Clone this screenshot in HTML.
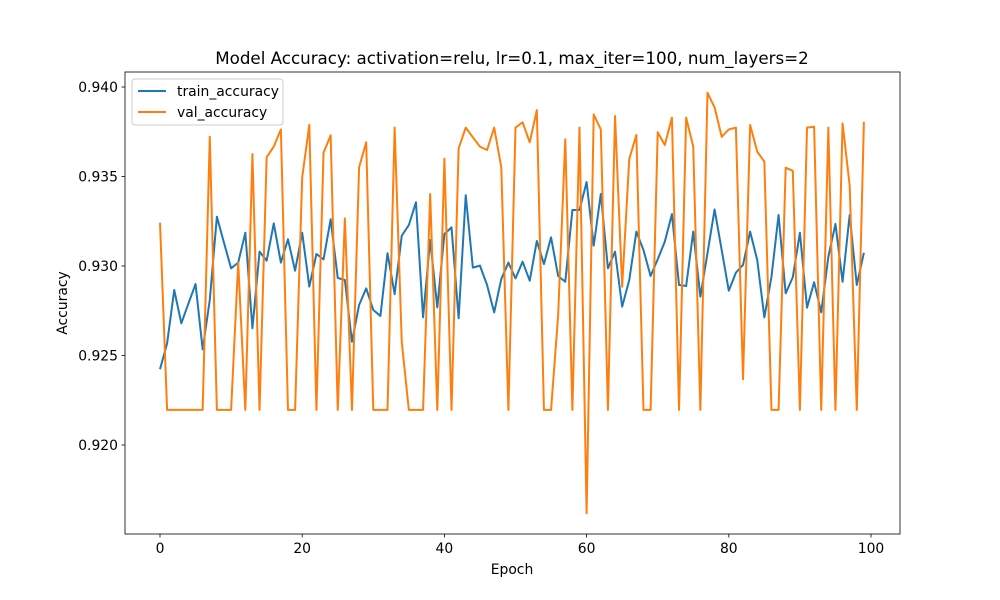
<!DOCTYPE html>
<html><head><meta charset="utf-8"><style>
body{margin:0;background:#fff;}
svg{display:block;font-family:"DejaVu Sans","Liberation Sans",sans-serif;}
</style></head><body>
<svg id="chart" width="1000" height="600">
<rect width="1000" height="600" fill="#fff"/>
<text x="512" y="64" font-size="16.7" text-anchor="middle">Model Accuracy: activation=relu, lr=0.1, max_iter=100, num_layers=2</text>
<text x="512" y="574" font-size="13.9" text-anchor="middle">Epoch</text>
<text x="67" y="303" font-size="13.9" text-anchor="middle" transform="rotate(-90 67 303)">Accuracy</text>
<g id="ticks"></g>
<g id="series"></g>
<rect x="125" y="72" width="775" height="462" fill="none" stroke="#000" stroke-width="0.8"/>
<g>
<rect x="132" y="79" width="151" height="46" rx="3" fill="#fff" fill-opacity="0.8" stroke="#ccc"/>
<line x1="138" y1="91" x2="166" y2="91" stroke="#1f77b4" stroke-width="2"/>
<text x="177" y="96" font-size="13.9">train_accuracy</text>
<line x1="138" y1="112" x2="166" y2="112" stroke="#ff7f0e" stroke-width="2"/>
<text x="177" y="117" font-size="13.9">val_accuracy</text>
</g>
</svg>
<script>
const xTicks=[0,20,40,60,80,100];
const yTicks=[0.920,0.925,0.930,0.935,0.940];
const yTickLabels=["0.920","0.925","0.930","0.935","0.940"];
const trainAcc=[0.92423,0.92568,0.92866,0.92680,0.92791,0.92899,0.92534,0.92810,0.93275,0.93130,0.92987,0.93019,0.93186,0.92652,0.93080,0.93030,0.93238,0.93019,0.93149,0.92974,0.93186,0.92885,0.93067,0.93037,0.93261,0.92933,0.92922,0.92577,0.92782,0.92875,0.92754,0.92721,0.93071,0.92843,0.93169,0.93229,0.93356,0.92713,0.93145,0.92769,0.93179,0.93216,0.92708,0.93395,0.92991,0.93002,0.92894,0.92741,0.92927,0.93019,0.92931,0.93024,0.92918,0.93140,0.93011,0.93160,0.92944,0.92912,0.93313,0.93313,0.93469,0.93114,0.93402,0.92987,0.93080,0.92773,0.92922,0.93192,0.93089,0.92944,0.93037,0.93136,0.93290,0.92894,0.92888,0.93192,0.92829,0.93071,0.93316,0.93089,0.92862,0.92963,0.93006,0.93192,0.93033,0.92713,0.92940,0.93285,0.92847,0.92937,0.93186,0.92767,0.92909,0.92741,0.93052,0.93235,0.92912,0.93285,0.92894,0.93074];
const valAcc=[0.93242,0.92196,0.92196,0.92196,0.92196,0.92196,0.92196,0.93722,0.92196,0.92196,0.92196,0.93019,0.92196,0.93626,0.92196,0.93607,0.93667,0.93763,0.92196,0.92196,0.93495,0.93789,0.92196,0.93633,0.93730,0.92196,0.93266,0.92196,0.93551,0.93691,0.92196,0.92196,0.92196,0.93773,0.92577,0.92196,0.92196,0.92196,0.93402,0.92196,0.93599,0.92196,0.93657,0.93773,0.93719,0.93667,0.93648,0.93773,0.93551,0.92196,0.93773,0.93803,0.93691,0.93871,0.92196,0.92196,0.92726,0.93708,0.92196,0.93773,0.91618,0.93847,0.93763,0.92196,0.93838,0.92884,0.93598,0.93732,0.92196,0.92196,0.93747,0.93676,0.93829,0.92196,0.93829,0.93667,0.92196,0.93968,0.93886,0.93722,0.93763,0.93773,0.92367,0.93788,0.93639,0.93583,0.92196,0.92196,0.93549,0.93532,0.92196,0.93773,0.93778,0.92196,0.93773,0.92196,0.93797,0.93450,0.92196,0.93806];
const NS="http://www.w3.org/2000/svg";
function xs(v){return 160+v*7.11;}
function ys(v){return 87+(0.940-v)*17900;}
const tg=document.getElementById('ticks');
xTicks.forEach(t=>{
  const l=document.createElementNS(NS,'line');
  l.setAttribute('x1',xs(t));l.setAttribute('x2',xs(t));l.setAttribute('y1',534);l.setAttribute('y2',537.5);
  l.setAttribute('stroke','#000');l.setAttribute('stroke-width','0.8');
  
  
  tg.appendChild(l);
  const tx=document.createElementNS(NS,'text');
  tx.setAttribute('x',xs(t));tx.setAttribute('y',553);tx.setAttribute('font-size','13.9');tx.setAttribute('text-anchor','middle');
  tx.textContent=t;
  
  
  tg.appendChild(tx);
});
yTicks.forEach((t,i)=>{
  const l=document.createElementNS(NS,'line');
  l.setAttribute('x1',121.5);l.setAttribute('x2',125);l.setAttribute('y1',ys(t));l.setAttribute('y2',ys(t));
  l.setAttribute('stroke','#000');l.setAttribute('stroke-width','0.8');
  
  
  tg.appendChild(l);
  const tx=document.createElementNS(NS,'text');
  tx.setAttribute('x',118);tx.setAttribute('y',ys(t)+5);tx.setAttribute('font-size','13.9');tx.setAttribute('text-anchor','end');
  tx.textContent=yTickLabels[i];
  
  
  tg.appendChild(tx);
});
const sg=document.getElementById('series');
function line(data,color,name){
  const p=document.createElementNS(NS,'polyline');
  p.setAttribute('points',data.map((v,i)=>xs(i).toFixed(2)+','+ys(v).toFixed(2)).join(' '));
  p.setAttribute('fill','none');p.setAttribute('stroke',color);p.setAttribute('stroke-width','2');p.setAttribute('stroke-linejoin','round');
  
  
  sg.appendChild(p);
}
line(trainAcc,'#1f77b4','train-accuracy-line');
line(valAcc,'#ff7f0e','val-accuracy-line');
</script>
</body></html>
